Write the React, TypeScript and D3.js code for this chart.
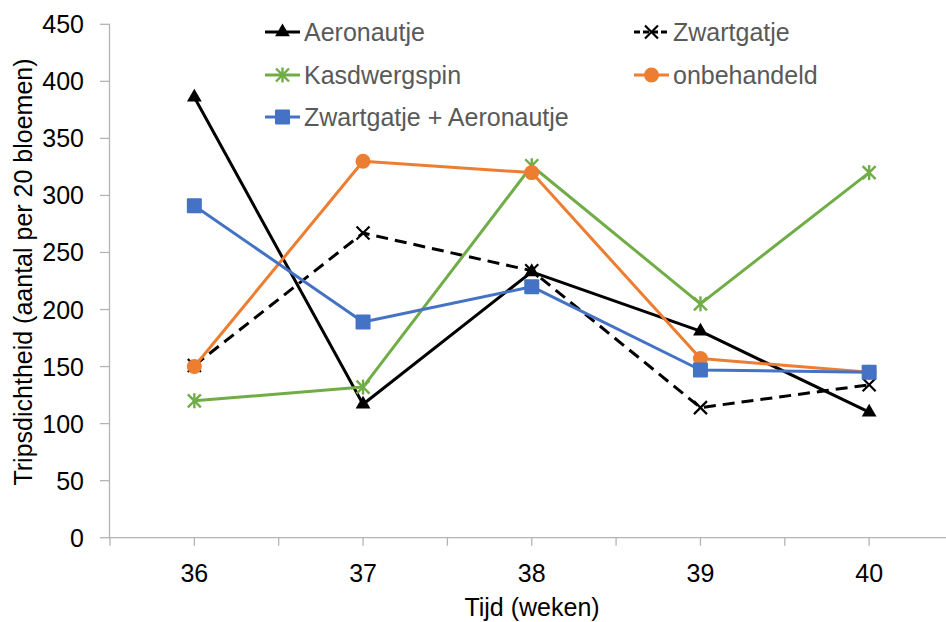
import React from "react";
import * as d3 from "d3";

const weeks = ["36", "37", "38", "39", "40"];
const aeronautje = [386, 117, 233, 181, 110];
const zwartgatje = [151, 267, 234, 114, 134];
const kasdwergspin = [120, 132, 326, 205, 320];
const onbehandeld = [150, 330, 320, 157, 145];
const zwartAero = [291, 189, 220, 147, 145];
const yTicks = [0, 50, 100, 150, 200, 250, 300, 350, 400, 450];

type Series = { name: string; values: number[]; color: string; dash?: string; marker: string };

const series: Series[] = [
  { name: "Aeronautje", values: aeronautje, color: "#000000", marker: "triangle" },
  { name: "Zwartgatje", values: zwartgatje, color: "#000000", dash: "12,7", marker: "x" },
  { name: "Kasdwergspin", values: kasdwergspin, color: "#70AD47", marker: "star" },
  { name: "onbehandeld", values: onbehandeld, color: "#ED7D31", marker: "circle" },
  { name: "Zwartgatje + Aeronautje", values: zwartAero, color: "#4472C4", marker: "square" },
];

const W = 946;
const H = 622;
const x0 = 110;
const x1 = 953.5;
const yTop = 24.3;
const yBot = 537.7;

function Marker({ type, cx, cy, color }: { type: string; cx: number; cy: number; color: string }) {
  if (type === "triangle") {
    const p = d3.symbol().type(d3.symbolTriangle).size(95)();
    return <path d={p || ""} transform={`translate(${cx},${cy})`} fill={color} />;
  }
  if (type === "square") {
    return <rect x={cx - 7.5} y={cy - 7.5} width={15} height={15} fill={color} rx={1} />;
  }
  if (type === "circle") {
    return <circle cx={cx} cy={cy} r={7.5} fill={color} />;
  }
  if (type === "x") {
    const s = 6.5;
    return (
      <g stroke={color} strokeWidth={2.2}>
        <line x1={cx - s} y1={cy - s} x2={cx + s} y2={cy + s} />
        <line x1={cx - s} y1={cy + s} x2={cx + s} y2={cy - s} />
      </g>
    );
  }
  const s = 6.5;
  return (
    <g stroke={color} strokeWidth={2.4}>
      <line x1={cx - s} y1={cy - s} x2={cx + s} y2={cy + s} />
      <line x1={cx - s} y1={cy + s} x2={cx + s} y2={cy - s} />
      <line x1={cx} y1={cy - s - 1} x2={cx} y2={cy + s + 1} />
    </g>
  );
}

export default function App() {
  const x = d3.scaleBand<string>().domain(weeks).range([x0, x1]).padding(0);
  const xc = (w: string) => (x(w) as number) + x.bandwidth() / 2;
  const y = d3.scaleLinear().domain([0, 450]).range([yBot, yTop]);
  const line = d3
    .line<[string, number]>()
    .x((d) => xc(d[0]))
    .y((d) => y(d[1]));

  const font = "'Liberation Sans', Arial, Helvetica, sans-serif";
  const axisColor = "#B4B4B4";
  const fs = 25;

  const legendPos = [
    { lx: 265, tx: 304, cy: 32 },
    { lx: 634, tx: 673, cy: 32 },
    { lx: 265, tx: 304, cy: 75 },
    { lx: 634, tx: 673, cy: 75 },
    { lx: 265, tx: 304, cy: 117 },
  ];

  const xTickPositions: number[] = [];
  weeks.forEach((w) => {
    xTickPositions.push(x(w) as number);
    xTickPositions.push(xc(w));
  });

  return (
    <svg
      width={W}
      height={H}
      style={{ position: "absolute", left: 0, top: 0, background: "#fff" }}
      fontFamily={font}
    >
      <line x1={x0 - 0.5} y1={yTop} x2={x0 - 0.5} y2={yBot} stroke={axisColor} strokeWidth={1.3} />
      {yTicks.map((t) => (
        <g key={t}>
          <line x1={100} x2={x0} y1={y(t)} y2={y(t)} stroke={axisColor} strokeWidth={1.3} />
          <text x={84} y={y(t) + 9} textAnchor="end" fontSize={fs} fill="#000">
            {t}
          </text>
        </g>
      ))}
      <line x1={x0 - 1} y1={yBot} x2={W} y2={yBot} stroke={axisColor} strokeWidth={1.3} />
      {xTickPositions.map((p, i) => (
        <line key={i} x1={p} x2={p} y1={yBot} y2={yBot + 8} stroke={axisColor} strokeWidth={1.3} />
      ))}
      {weeks.map((w) => (
        <text key={w} x={xc(w)} y={582} textAnchor="middle" fontSize={fs} fill="#000">
          {w}
        </text>
      ))}
      <text x={532} y={616} textAnchor="middle" fontSize={fs} fill="#000">
        Tijd (weken)
      </text>
      <text transform={`translate(32,272) rotate(-90)`} textAnchor="middle" fontSize={fs} fill="#000">
        Tripsdichtheid (aantal per 20 bloemen)
      </text>

      {series.map((s) => {
        const pts = weeks.map((w, i) => [w, s.values[i]] as [string, number]);
        return (
          <g key={s.name}>
            <path
              d={line(pts) || ""}
              fill="none"
              stroke={s.color}
              strokeWidth={3}
              strokeDasharray={s.dash}
              strokeLinejoin="round"
            />
            {pts.map((p, i) => (
              <Marker key={i} type={s.marker} cx={xc(p[0])} cy={y(p[1])} color={s.color} />
            ))}
          </g>
        );
      })}

      {series.map((s, i) => {
        const lp = legendPos[i];
        return (
          <g key={s.name}>
            <line
              x1={lp.lx}
              x2={lp.lx + 35}
              y1={lp.cy}
              y2={lp.cy}
              stroke={s.color}
              strokeWidth={3}
              strokeDasharray={s.dash ? "6,3" : undefined}
            />
            <Marker type={s.marker} cx={lp.lx + 17.5} cy={lp.cy} color={s.color} />
            <text x={lp.tx} y={lp.cy + 9} fontSize={fs} fill="#595959">
              {s.name}
            </text>
          </g>
        );
      })}
    </svg>
  );
}
